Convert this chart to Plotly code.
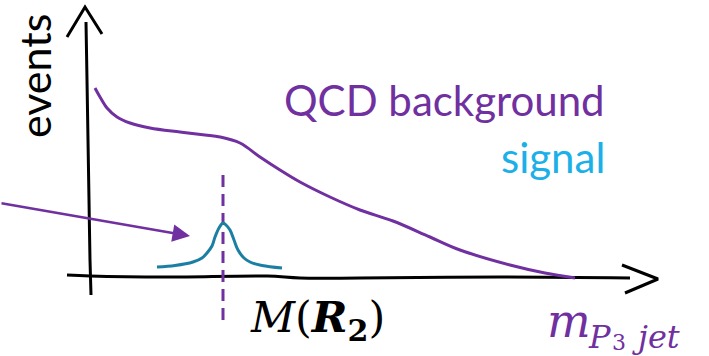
import plotly.graph_objects as go

# Schematic curves (picture coordinates, y grows downward)
bkg_x = [95, 100, 107, 117, 130, 150, 180, 205, 220, 240, 260, 280, 300, 330, 360, 393, 430, 460, 510, 545, 575]
bkg_y = [88, 97, 108, 117, 123, 128, 132, 135, 137, 143, 157, 170, 182, 197, 210, 221, 237, 250, 265, 273, 278]

sig_x = [157, 175, 193, 202, 207, 212, 215, 219, 223, 226, 230, 234, 238, 244, 250, 262, 282]
sig_y = [267, 265.5, 262, 258, 253, 246, 237, 228, 223, 225, 230, 240, 250, 258, 262, 265.5, 268]

yaxis_x = [86, 87, 88, 89, 90, 91]
yaxis_y = [22, 80, 140, 200, 260, 295]
xaxis_x = [67, 90, 167, 267, 300, 360, 500, 630]
xaxis_y = [275, 276, 277, 276, 278, 278, 277, 278]
yhead_x = [67, 85, 102]
yhead_y = [37, 7, 34]
xhead_x = [622, 658, 625]
xhead_y = [265, 279, 293]

mass_x = 223
mass_y = [175, 327]

PURPLE = "#7030A0"
TEAL = "#1B7FA3"
LIGHTBLUE = "#1CB0E8"

fig = go.Figure()
fig.add_trace(go.Scatter(x=yaxis_x, y=yaxis_y, mode="lines", line=dict(color="black", width=3, shape="spline")))
fig.add_trace(go.Scatter(x=xaxis_x, y=xaxis_y, mode="lines", line=dict(color="black", width=3, shape="spline")))
fig.add_trace(go.Scatter(x=yhead_x, y=yhead_y, mode="lines", line=dict(color="black", width=3)))
fig.add_trace(go.Scatter(x=xhead_x, y=xhead_y, mode="lines", line=dict(color="black", width=3)))
fig.add_trace(go.Scatter(x=[mass_x, mass_x], y=mass_y, mode="lines",
                         line=dict(color=PURPLE, width=3, dash="12px,7px")))
fig.add_trace(go.Scatter(x=bkg_x, y=bkg_y, mode="lines", line=dict(color=PURPLE, width=3, shape="spline")))
fig.add_trace(go.Scatter(x=sig_x, y=sig_y, mode="lines", line=dict(color=TEAL, width=3, shape="spline")))

# Pointer arrow
fig.add_annotation(x=190, y=236, ax=0, ay=203, xref="x", yref="y", axref="x", ayref="y",
                   text="", showarrow=True, arrowhead=2, arrowsize=1.4, arrowwidth=2.5,
                   arrowcolor=PURPLE, standoff=0)

fig.add_annotation(x=34, y=76, text="events", textangle=-90, showarrow=False,
                   font=dict(family="Lato", size=43, color="black"), xanchor="center", yanchor="middle")
fig.add_annotation(x=607, y=100, text="QCD background", showarrow=False,
                   font=dict(family="Lato", size=42, color=PURPLE), xanchor="right", yanchor="middle")
fig.add_annotation(x=607, y=157, text="signal", showarrow=False,
                   font=dict(family="Lato", size=42, color=LIGHTBLUE), xanchor="right", yanchor="middle")
fig.add_annotation(x=248, y=320, text="<i>M</i>(<b><i>R</i></b><sub><b>2</b></sub>)", showarrow=False,
                   font=dict(family="DejaVu Serif", size=43, color="black"), xanchor="left", yanchor="middle")
fig.add_annotation(x=545, y=321, text="<i>m</i>", showarrow=False,
                   font=dict(family="DejaVu Serif", size=46, color=PURPLE), xanchor="left", yanchor="middle")
fig.add_annotation(x=586, y=337, text="<i>P</i>", showarrow=False,
                   font=dict(family="DejaVu Serif", size=32, color=PURPLE), xanchor="left", yanchor="middle")
fig.add_annotation(x=610, y=342, text="3", showarrow=False,
                   font=dict(family="DejaVu Serif", size=22, color=PURPLE), xanchor="left", yanchor="middle")
fig.add_annotation(x=630, y=337, text="<i>jet</i>", showarrow=False,
                   font=dict(family="DejaVu Serif", size=32, color=PURPLE), xanchor="left", yanchor="middle")

fig.update_layout(
    width=709, height=356, margin=dict(l=0, r=0, t=0, b=0, autoexpand=False),
    paper_bgcolor="white", plot_bgcolor="white", showlegend=False,
    xaxis=dict(range=[0, 709], visible=False, fixedrange=True),
    yaxis=dict(range=[356, 0], visible=False, fixedrange=True),
)
fig.write_html("out.html", config={"displayModeBar": False},
               post_script="document.body.style.margin='0';document.body.style.overflow='hidden';")
